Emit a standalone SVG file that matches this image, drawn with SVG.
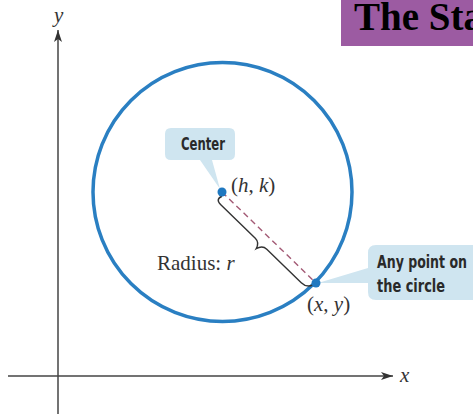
<svg xmlns="http://www.w3.org/2000/svg" width="473" height="414" viewBox="0 0 473 414">
<defs>
<style>
.axis{stroke:#444;stroke-width:1.5;fill:none}
.callout{fill:#cfe5f0;stroke:none}
.ctext{font-family:"DejaVu Sans Condensed","Liberation Sans Narrow","DejaVu Sans",sans-serif;font-weight:bold;font-size:18px;fill:#2a2a2a}
.serif{font-family:"Liberation Serif","Times New Roman",serif;font-size:21px;fill:#333}
.dot{fill:#1f78c0}
</style>
<marker id="arr" viewBox="0 0 12 8" refX="12" refY="4" markerWidth="12" markerHeight="8" markerUnits="userSpaceOnUse" orient="auto">
<path d="M0,0 L12,4 L0,8 L3,4 Z" fill="#333"/>
</marker>
</defs>
<rect width="473" height="414" fill="#fff"/>
<g id="title">
<rect x="341" y="0" width="140" height="46" fill="#9c5ba2"/>
<text x="354" y="30" font-family="Liberation Serif,serif" font-weight="bold" font-size="39" fill="#000">The Sta</text>
</g>
<g id="axes">
<line class="axis" x1="58" y1="414" x2="58" y2="30" marker-end="url(#arr)"/>
<line class="axis" x1="8" y1="376" x2="393" y2="376" marker-end="url(#arr)"/>
<text x="54" y="22" class="serif" font-style="italic" font-size="21">y</text>
<text x="400" y="382" class="serif" font-style="italic" font-size="23">x</text>
</g>
<g id="circle">
<circle cx="222.5" cy="192" r="129.5" fill="none" stroke="#2a7fc2" stroke-width="3.5"/>
</g>
<g id="connectors">
<line x1="222" y1="192" x2="316" y2="283" stroke="#a35a75" stroke-width="1.4" stroke-dasharray="6,4"/>
<path transform="translate(222,192) rotate(44.07)" d="M3,3 Q0,10 8,10 L56,10 Q62,10 64,17 Q66,10 72,10 L120,10 Q128,10 130,3" fill="none" stroke="#333" stroke-width="1.4"/>
</g>
<g id="center-callout">
<path class="callout" d="M171,128 H229 Q235,128 235,134 V154 Q235,160 229,160 H212 L220,189 L200,160 H171 Q165,160 165,154 V134 Q165,128 171,128 Z"/>
<text x="181" y="150" class="ctext" textLength="44" lengthAdjust="spacingAndGlyphs">Center</text>
</g>
<g id="point-callout">
<path class="callout" d="M376,245 H480 V300 H376 Q368,300 368,292 V283 L318,283 L368,268 V253 Q368,245 376,245 Z"/>
<text x="377" y="268" class="ctext" textLength="90" lengthAdjust="spacingAndGlyphs">Any point on</text>
<text x="377" y="292" class="ctext" textLength="68" lengthAdjust="spacingAndGlyphs">the circle</text>
</g>
<g id="center-point">
<circle class="dot" cx="222" cy="192" r="4.5"/>
<text x="231" y="192" class="serif">(<tspan font-style="italic">h</tspan>, <tspan font-style="italic">k</tspan>)</text>
</g>
<g id="edge-point">
<circle class="dot" cx="316" cy="283" r="4.5"/>
<text x="307" y="311" class="serif">(<tspan font-style="italic">x</tspan>, <tspan font-style="italic">y</tspan>)</text>
</g>
<g id="radius-label">
<text x="157" y="270" class="serif" font-size="23">Radius: <tspan font-style="italic">r</tspan></text>
</g>
</svg>
